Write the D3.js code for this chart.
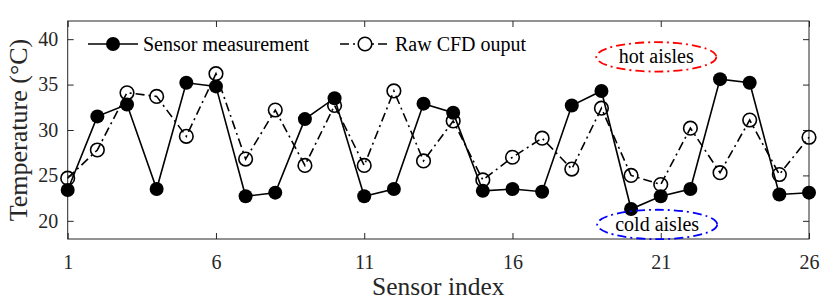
<!DOCTYPE html>
<html>
<head>
<meta charset="utf-8">
<script src="https://cdn.jsdelivr.net/npm/d3@7"></script>
<style>
  body { margin: 0; background: #fff; }
  svg { display: block; font-family: "Liberation Serif", "DejaVu Serif", serif; }
</style>
</head>
<body>
<div id="chart"></div>
<script>
// sensor index 1..26
const sensorIndex = d3.range(1, 27);

// measured temperatures (filled markers, solid line)
const sensorMeasurement = [23.4, 31.5, 32.8, 23.5, 35.2, 34.8, 22.7, 23.1, 31.2, 33.5,
    22.7, 23.5, 32.9, 31.9, 23.3, 23.5, 23.2, 32.7, 34.3, 21.3,
    22.7, 23.5, 35.6, 35.2, 22.9, 23.1];

// raw CFD output (open markers, dash-dot line)
const rawCFD = [24.7, 27.8, 34.1, 33.7, 29.3, 36.2, 26.8, 32.2, 26.1, 32.7,
    26.1, 34.3, 26.6, 31.0, 24.5, 27.0, 29.1, 25.7, 32.4, 25.0,
    24.0, 30.2, 25.3, 31.1, 25.1, 29.2];

const xTicks = [1, 6, 11, 16, 21, 26];
const yTicks = [20, 25, 30, 35, 40];

const legendLabels = ["Sensor measurement", "Raw CFD ouput"];

// annotation ellipses, in data units
const aisleLabels = ["hot aisles", "cold aisles"];
const aisleCenterX = [20.85, 20.88];
const aisleCenterY = [38.05, 19.6];
const aisleColors = ["#ff0000", "#0000ff"];

const W = 830, H = 300;
const margin = { top: 21, right: 21, bottom: 61, left: 67.7 },
    width = W - margin.left - margin.right,
    height = H - margin.top - margin.bottom;

const svg = d3.select("#chart").append("svg")
    .attr("width", W)
    .attr("height", H);

const g = svg.append("g")
    .attr("transform", `translate(${margin.left},${margin.top})`);

const x = d3.scaleLinear().domain([1, 26]).range([0, width]);
const y = d3.scaleLinear().domain([18, 42]).range([height, 0]);

const axisColor = "#262626";

// axes (ticks point inward)
const xAxis = g.append("g")
    .attr("transform", `translate(0,${height})`)
    .call(d3.axisBottom(x).tickValues(xTicks).tickSizeInner(-6).tickSizeOuter(0).tickPadding(15.8));
const yAxis = g.append("g")
    .call(d3.axisLeft(y).tickValues(yTicks).tickSizeInner(-6).tickSizeOuter(0).tickPadding(9.5));
const xTop = g.append("g")
    .call(d3.axisTop(x).tickValues(xTicks).tickSizeInner(-6).tickSizeOuter(0).tickFormat(""));
const yRight = g.append("g")
    .attr("transform", `translate(${width},0)`)
    .call(d3.axisRight(y).tickValues(yTicks).tickSizeInner(-6).tickSizeOuter(0).tickFormat(""));

[xAxis, yAxis, xTop, yRight].forEach(a => {
    a.select(".domain").remove();
    a.selectAll("line").attr("stroke", axisColor).attr("stroke-width", 1);
    a.selectAll("text")
        .attr("fill", axisColor)
        .style("font-family", "Liberation Serif")
        .style("font-size", "20px");
});

// box
g.append("rect")
    .attr("width", width)
    .attr("height", height)
    .attr("fill", "none")
    .attr("stroke", axisColor)
    .attr("stroke-width", 1);

// axis labels
g.append("text")
    .attr("x", width / 2)
    .attr("y", 295 - margin.top)
    .attr("text-anchor", "middle")
    .attr("fill", axisColor)
    .style("font-size", "25.5px")
    .text("Sensor index");

g.append("text")
    .attr("transform", "rotate(-90)")
    .attr("x", -height / 2)
    .attr("y", 27 - margin.left)
    .attr("text-anchor", "middle")
    .attr("fill", axisColor)
    .style("font-size", "26px")
    .text("Temperature (°C)");

// lines
const line = d3.line()
    .x((d, i) => x(sensorIndex[i]))
    .y(d => y(d));

const dashDot = "9,4,2,4";

g.append("path")
    .datum(sensorMeasurement)
    .attr("fill", "none")
    .attr("stroke", "#000")
    .attr("stroke-width", 1.6)
    .attr("d", line);

g.selectAll(".sensor")
    .data(sensorMeasurement)
    .enter().append("circle")
    .attr("class", "sensor")
    .attr("cx", (d, i) => x(sensorIndex[i]))
    .attr("cy", d => y(d))
    .attr("r", 7)
    .attr("fill", "#000");

g.append("path")
    .datum(rawCFD)
    .attr("fill", "none")
    .attr("stroke", "#000")
    .attr("stroke-width", 1.6)
    .attr("stroke-dasharray", dashDot)
    .attr("d", line);

g.selectAll(".raw")
    .data(rawCFD)
    .enter().append("circle")
    .attr("class", "raw")
    .attr("cx", (d, i) => x(sensorIndex[i]))
    .attr("cy", d => y(d))
    .attr("r", 6.8)
    .attr("fill", "none")
    .attr("stroke", "#000")
    .attr("stroke-width", 1.6);

// aisle annotations
aisleLabels.forEach((label, i) => {
    const cx = x(aisleCenterX[i]), cy = y(aisleCenterY[i]);
    g.append("ellipse")
        .attr("cx", cx)
        .attr("cy", cy)
        .attr("rx", 60)
        .attr("ry", 14.7)
        .attr("fill", "none")
        .attr("stroke", aisleColors[i])
        .attr("stroke-width", 1.8)
        .attr("stroke-dasharray", dashDot);
    g.append("text")
        .attr("x", cx)
        .attr("y", cy)
        .attr("dy", "0.33em")
        .attr("text-anchor", "middle")
        .attr("fill", "#000")
        .style("font-size", "20px")
        .text(label);
});

// legend
const legendX = [88, 340];
const legend = svg.append("g");
legendLabels.forEach((label, i) => {
    const lx = legendX[i], ly = 44;
    legend.append("line")
        .attr("x1", lx).attr("x2", lx + 50)
        .attr("y1", ly).attr("y2", ly)
        .attr("stroke", "#000")
        .attr("stroke-width", 1.6)
        .attr("stroke-dasharray", i === 0 ? null : dashDot);
    legend.append("circle")
        .attr("cx", lx + 25).attr("cy", ly)
        .attr("r", i === 0 ? 7 : 6.8)
        .attr("fill", i === 0 ? "#000" : "#fff")
        .attr("stroke", "#000")
        .attr("stroke-width", i === 0 ? 0 : 1.6);
    legend.append("text")
        .attr("x", lx + 55)
        .attr("y", ly + 7)
        .attr("fill", "#000")
        .style("font-size", "20px")
        .text(label);
});
</script>
</body>
</html>
